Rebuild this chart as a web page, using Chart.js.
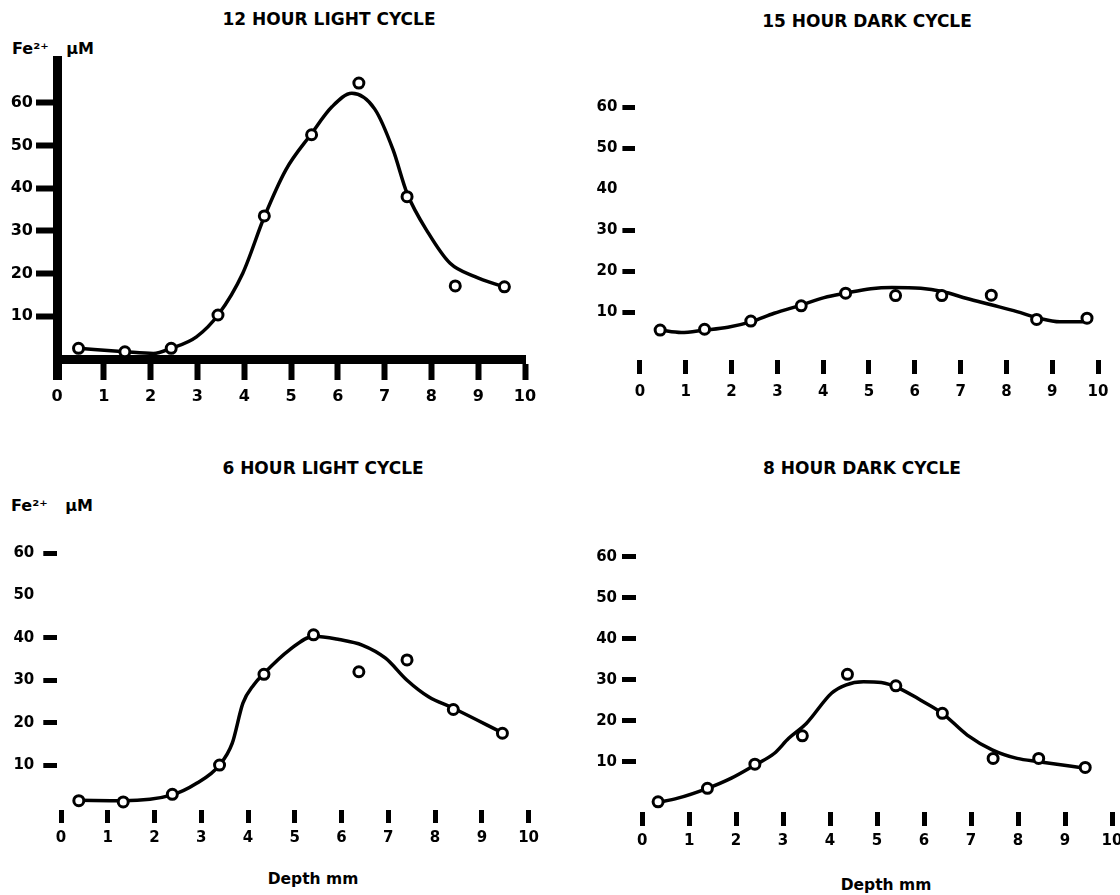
<!DOCTYPE html>
<html>
<head>
<meta charset="utf-8">
<title>Fe2+ depth profiles</title>
<script src="https://cdn.jsdelivr.net/npm/chart.js@4.4.1/dist/chart.umd.min.js"></script>
<style>
  html, body { margin: 0; padding: 0; background: #fff; }
  body { position: relative; width: 1120px; height: 895px; overflow: hidden;
         font-family: "DejaVu Sans", sans-serif; font-weight: bold; color: #000; }
  canvas { position: absolute; }
  .lbl { position: absolute; white-space: nowrap; line-height: 1; transform: translate(-50%, -50%); }
  .title { font-size: 17px; }
  .unit { font-size: 16px; word-spacing: 12px; transform: translate(0, -50%); }
  .depth { font-size: 15.5px; }
</style>
</head>
<body>

<div class="lbl title" style="left:329px; top:19px">12 HOUR LIGHT CYCLE</div>
<div class="lbl title" style="left:867px; top:21px">15 HOUR DARK CYCLE</div>
<div class="lbl title" style="left:323px; top:468px">6 HOUR LIGHT CYCLE</div>
<div class="lbl title" style="left:862px; top:468px">8 HOUR DARK CYCLE</div>

<div class="lbl unit" style="left:12px; top:49px">Fe²⁺ μM</div>
<div class="lbl unit" style="left:11px; top:506px">Fe²⁺ μM</div>

<div class="lbl depth" style="left:313px; top:880px">Depth mm</div>
<div class="lbl depth" style="left:886px; top:886px">Depth mm</div>

<canvas id="light12" width="560" height="420" style="left:0; top:0"></canvas>
<canvas id="dark15" width="560" height="420" style="left:560px; top:0"></canvas>
<canvas id="light6" width="560" height="455" style="left:0; top:440px"></canvas>
<canvas id="dark8" width="600" height="455" style="left:560px; top:440px"></canvas>

<script>
// axis ticks
const depthTicks = [0, 1, 2, 3, 4, 5, 6, 7, 8, 9, 10];
const feTicks = [10, 20, 30, 40, 50, 60];

// 12 hour light cycle: measured points + hand drawn curve
const light12Depth = [0.46, 1.45, 2.44, 3.44, 4.43, 5.44, 6.45, 7.48, 8.51, 9.56];
const light12Fe = [2.5, 1.7, 2.5, 10.3, 33.5, 52.5, 64.6, 38.0, 17.1, 16.9];
const light12FitDepth = [0.46, 1.45, 2.06, 2.44, 2.98, 3.44, 3.97, 4.43, 4.89, 5.42, 5.88, 6.3, 6.79, 7.18, 7.48, 7.94, 8.4, 8.93, 9.54];
const light12FitFe = [2.5, 1.7, 1.3, 2.5, 5.2, 10.3, 20.1, 33.3, 44.3, 52.5, 59.1, 62.2, 58.5, 49.0, 38.8, 29.4, 22.4, 19.3, 16.9];

// 15 hour dark cycle
const dark15Depth = [0.44, 1.41, 2.42, 3.52, 4.49, 5.58, 6.59, 7.67, 8.66, 9.76];
const dark15Fe = [5.6, 5.8, 7.8, 11.5, 14.6, 14.0, 14.0, 14.1, 8.2, 8.5];
const dark15FitDepth = [0.44, 0.9, 1.41, 1.92, 2.42, 2.93, 3.52, 4.02, 4.49, 5.04, 5.5, 6.13, 6.6, 7.14, 7.69, 8.23, 8.7, 9.17, 9.72];
const dark15FitFe = [5.6, 5.0, 5.6, 6.3, 7.6, 9.7, 11.7, 13.5, 14.6, 15.7, 16.0, 15.8, 15.0, 13.3, 11.7, 10.1, 8.5, 7.6, 7.6];
const dark15NoDash = [40];

// 6 hour light cycle
const light6Depth = [0.38, 1.33, 2.38, 3.39, 4.34, 5.4, 6.37, 7.4, 8.39, 9.44];
const light6Fe = [1.6, 1.3, 3.1, 10.0, 31.4, 40.7, 32.0, 34.8, 23.1, 17.5];
const light6FitDepth = [0.38, 1.33, 2.36, 2.9, 3.39, 3.66, 3.89, 4.12, 4.34, 4.88, 5.41, 5.95, 6.44, 6.94, 7.4, 7.86, 8.39, 9.46];
const light6FitFe = [1.7, 1.6, 2.9, 5.7, 10.0, 15.1, 24.6, 28.9, 31.6, 37.1, 40.4, 39.6, 38.3, 35.2, 30.0, 26.1, 23.4, 17.5];
const light6NoDash = [50];

// 8 hour dark cycle
const dark8Depth = [0.34, 1.39, 2.4, 3.41, 4.37, 5.4, 6.39, 7.47, 8.44, 9.43];
const dark8Fe = [0.2, 3.5, 9.4, 16.3, 31.3, 28.5, 21.8, 10.8, 10.8, 8.6];
const dark8FitDepth = [0.31, 0.76, 1.39, 1.9, 2.4, 2.81, 3.12, 3.5, 4.03, 4.33, 4.71, 5.09, 5.47, 5.93, 6.39, 6.92, 7.45, 7.98, 8.44, 9.43];
const dark8FitFe = [0, 1.1, 3.5, 6.0, 9.2, 12.0, 15.7, 19.4, 26.7, 28.7, 29.5, 29.3, 27.9, 25.0, 21.8, 16.5, 12.9, 10.8, 10.0, 8.4];

Chart.defaults.font.family = '"DejaVu Sans", sans-serif';
Chart.defaults.font.weight = 'bold';
Chart.defaults.color = '#000';

const toXY = (xs, ys) => xs.map((x, i) => ({ x: x, y: ys[i] }));

function makePanel(id, p) {
  const noDash = p.noDash || [];
  return new Chart(document.getElementById(id).getContext('2d'), {
    type: 'scatter',
    data: {
      datasets: [
        { // measured values, open circles
          data: toXY(p.depth, p.fe),
          showLine: false,
          pointRadius: 5,
          pointBorderWidth: 3,
          pointBackgroundColor: '#fff',
          pointBorderColor: '#000',
          order: 0,
          clip: false
        },
        { // smooth curve
          data: toXY(p.fitDepth, p.fitFe),
          showLine: true,
          borderColor: '#000',
          borderWidth: 3.5,
          pointRadius: 0,
          cubicInterpolationMode: 'monotone',
          order: 1,
          clip: false
        }
      ]
    },
    options: {
      responsive: false,
      animation: false,
      devicePixelRatio: 1,
      events: [],
      layout: { padding: { top: p.top, right: p.right, left: 0, bottom: 0 } },
      plugins: { legend: { display: false }, tooltip: { enabled: false } },
      scales: {
        x: {
          type: 'linear',
          min: p.xMin,
          max: 10,
          afterBuildTicks: s => { s.ticks = depthTicks.map(v => ({ value: v })); },
          afterFit: s => { s.height = p.xHeight; s.paddingLeft = 0; s.paddingRight = 0; },
          grid: {
            drawOnChartArea: false,
            tickLength: p.xTick,
            tickWidth: c => (p.border && c.tick && c.tick.value === 0) ? p.border : p.tickW,
            tickColor: '#000'
          },
          border: { display: !!p.border, width: p.border || 0, color: '#000' },
          ticks: { padding: p.xPad, font: { size: p.font }, maxRotation: 0, autoSkip: false }
        },
        y: {
          type: 'linear',
          min: p.yMin,
          max: 70,
          afterBuildTicks: s => { s.ticks = feTicks.map(v => ({ value: v })); },
          afterFit: s => { s.width = p.yWidth; },
          grid: {
            drawOnChartArea: false,
            tickLength: p.yTick,
            tickWidth: p.tickW,
            tickColor: c => (c.tick && noDash.includes(c.tick.value)) ? 'rgba(0,0,0,0)' : '#000'
          },
          border: { display: !!p.border, width: p.border || 0, color: '#000' },
          ticks: { padding: p.yPad, font: { size: p.font }, autoSkip: false }
        }
      }
    }
  });
}

makePanel('light12', {
  depth: light12Depth, fe: light12Fe, fitDepth: light12FitDepth, fitFe: light12FitFe,
  top: 60, right: 35, yWidth: 57, xHeight: 61, xMin: 0, yMin: 0,
  border: 9, tickW: 6, xTick: 21, yTick: 21, xPad: 7, yPad: 3, font: 16
});

makePanel('dark15', {
  depth: dark15Depth, fe: dark15Fe, fitDepth: dark15FitDepth, fitFe: dark15FitFe, noDash: dark15NoDash,
  top: 66, right: 22, yWidth: 75.4, xHeight: 60, xMin: -0.1, yMin: -1.7,
  border: 0, tickW: 5, xTick: 14, yTick: 13, xPad: 9, yPad: 5, font: 15
});

makePanel('light6', {
  depth: light6Depth, fe: light6Fe, fitDepth: light6FitDepth, fitFe: light6FitFe, noDash: light6NoDash,
  top: 70.6, right: 31.4, yWidth: 57.3, xHeight: 85, xMin: -0.08, yMin: -0.6,
  border: 0, tickW: 5, xTick: 13, yTick: 14, xPad: 6, yPad: 9, font: 15
});

makePanel('dark8', {
  depth: dark8Depth, fe: dark8Fe, fitDepth: dark8FitDepth, fitFe: dark8FitFe,
  top: 75.7, right: 48, yWidth: 76, xHeight: 83, xMin: -0.13, yMin: -2.27,
  border: 0, tickW: 5, xTick: 14, yTick: 14, xPad: 6, yPad: 5, font: 15
});
</script>
</body>
</html>
